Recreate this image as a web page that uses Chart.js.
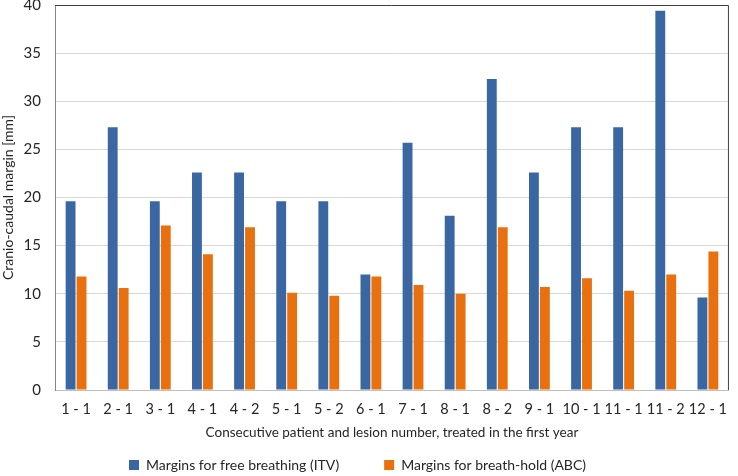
<!DOCTYPE html>
<html>
<head>
<meta charset="utf-8">
<script src="https://cdn.jsdelivr.net/npm/chart.js@4"></script>
<style>
  body { margin: 0; background: #fff; }
  #wrap { width: 738px; height: 476px; }
</style>
</head>
<body>
<div id="wrap"><canvas id="chart" width="738" height="476"></canvas></div>
<script>
const labels = ["1 - 1", "2 - 1", "3 - 1", "4 - 1", "4 - 2", "5 - 1", "5 - 2", "6 - 1",
                "7 - 1", "8 - 1", "8 - 2", "9 - 1", "10 - 1", "11 - 1", "11 - 2", "12 - 1"];
const freeBreathing = [19.6, 27.3, 19.6, 22.6, 22.6, 19.6, 19.6, 12.0,
                       25.7, 18.1, 32.3, 22.6, 27.3, 27.3, 39.4, 9.6];
const breathHold = [11.8, 10.6, 17.1, 14.1, 16.9, 10.1, 9.8, 11.8,
                    10.9, 10.0, 16.9, 10.7, 11.6, 10.3, 12.0, 14.4];

const font = "Lato, 'Open Sans', sans-serif";
const legendGap = 45;

// outline of the plot area: dark on top and right like the original
const plotFrame = {
    id: "plotFrame",
    afterDraw(chart) {
        const a = chart.chartArea, c = chart.ctx;
        c.save();
        c.lineWidth = 1;
        c.strokeStyle = "#404040";
        c.beginPath();
        c.moveTo(a.left, a.top + 0.5);
        c.lineTo(a.right - 0.5, a.top + 0.5);
        c.lineTo(a.right - 0.5, a.bottom);
        c.stroke();
        c.restore();
    }
};

// legend uses a wide item gap; stretch its box up so the row sits near the bottom
const legendNudge = {
    id: "legendNudge",
    afterLayout(chart) {
        const lg = chart.legend;
        lg.top = 458 - legendGap;
        lg.bottom = chart.height;
        lg.height = lg.bottom - lg.top;
        lg.left -= 10;
        lg.right -= 10;
    }
};

new Chart(document.getElementById("chart"), {
    type: "bar",
    data: {
        labels: labels,
        datasets: [{
            label: "Margins for free breathing (ITV)",
            data: freeBreathing,
            backgroundColor: "#3A67A2"
        }, {
            label: "Margins for breath-hold (ABC)",
            data: breathHold,
            backgroundColor: "#E8700E"
        }]
    },
    options: {
        responsive: false,
        animation: false,
        datasets: { bar: { categoryPercentage: 0.52, barPercentage: 0.9 } },
        layout: { padding: { top: 5, right: 3, left: 0, bottom: 0 } },
        plugins: {
            tooltip: { enabled: false },
            legend: {
                position: "bottom",
                maxHeight: 28,
                labels: {
                    font: { family: font, size: 14 },
                    color: "#262626",
                    boxWidth: 10,
                    boxHeight: 10,
                    padding: legendGap
                }
            }
        },
        scales: {
            x: {
                grid: { display: false, drawTicks: false },
                border: { color: "#bfbfbf" },
                ticks: { font: { family: font, size: 14.5 }, color: "#262626", padding: 11, maxRotation: 0 },
                title: {
                    display: true,
                    text: "Consecutive patient and lesion number, treated in the first year",
                    font: { family: font, size: 13.5 },
                    color: "#262626",
                    padding: { top: 0, bottom: 7 }
                },
                afterFit(scale) { scale.height = 58; }
            },
            y: {
                min: 0,
                max: 40,
                ticks: { stepSize: 5, font: { family: font, size: 15 }, color: "#262626", padding: 14 },
                grid: { color: "#d9d9d9", drawTicks: false },
                border: { color: "#868686" },
                title: {
                    display: true,
                    text: "Cranio-caudal margin [mm]",
                    font: { family: font, size: 14 },
                    color: "#262626",
                    padding: { top: 0, bottom: 2 }
                },
                afterFit(scale) {
                    scale.width = 55;
                    scale.paddingTop = 0;
                    scale.paddingBottom = 0;
                }
            }
        }
    },
    plugins: [plotFrame, legendNudge]
});
</script>
</body>
</html>
